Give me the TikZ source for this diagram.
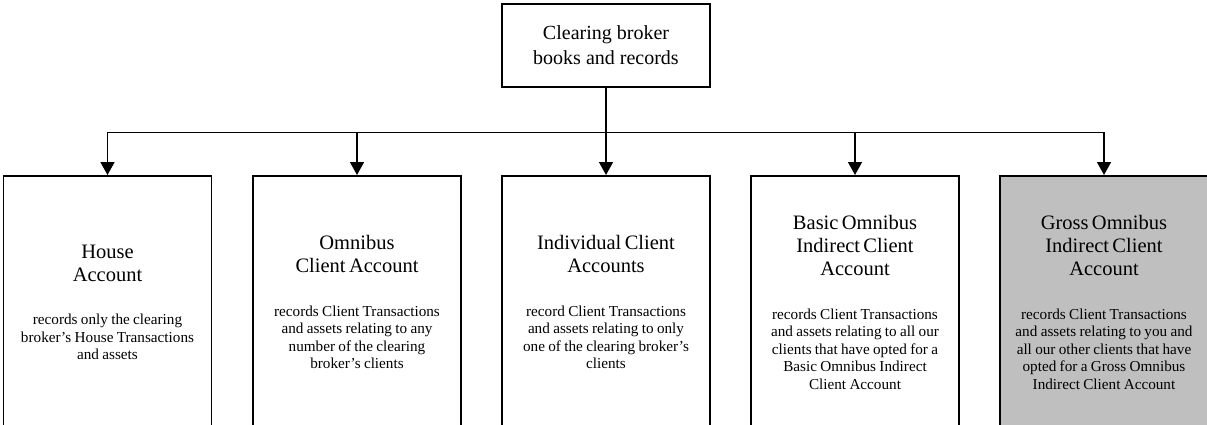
\documentclass[tikz,border=0pt]{standalone}
\usepackage{fontspec}
\setmainfont{Liberation Serif}
\usetikzlibrary{arrows.meta}
\definecolor{boxgray}{RGB}{191,191,191}
\newcommand{\accttext}[2]{{\fontsize{20.5}{23}\selectfont #1\par}\vspace{26pt}{\fontsize{15.2}{17.5}\selectfont #2\par}}
\tikzset{
  acct/.style={draw=black, line width=1.8pt, rectangle, anchor=north,
    minimum width=208pt, minimum height=253pt, text width=205pt, align=center, inner sep=0pt},
  topbox/.style={draw=black, line width=1.6pt, rectangle, minimum width=208pt, minimum height=83pt,
    align=center, inner sep=0pt, font=\fontsize{20}{25}\selectfont},
  conn/.style={line width=1.5pt, -{Triangle[width=14pt,length=13pt]}},
  plain/.style={line width=1.5pt}
}
\begin{document}
\begin{tikzpicture}[x=1pt,y=-1pt]
\useasboundingbox (0,0) rectangle (1207,425);
\clip (0,0) rectangle (1207,425);
\node[topbox] (top) at (606,45.5) {Clearing broker\\books and records};
\node[acct] (b1) at (107.5,175) {\accttext{House\\Account}{records only the clearing\\broker's House Transactions\\and assets}};
\node[acct] (b2) at (357,175) {\accttext{Omnibus\\Client Account}{records Client Transactions\\and assets relating to any\\number of the clearing\\broker's clients}};
\node[acct] (b3) at (606,175) {\accttext{Individual Client\\Accounts}{record Client Transactions\\and assets relating to only\\one of the clearing broker's\\clients}};
\node[acct] (b4) at (855,175) {\accttext{Basic Omnibus\\Indirect Client\\Account}{records Client Transactions\\and assets relating to all our\\clients that have opted for a\\Basic Omnibus Indirect\\Client Account}};
\node[acct, fill=boxgray] (b5) at (1104,175) {\accttext{Gross Omnibus\\Indirect Client\\Account}{records Client Transactions\\and assets relating to you and\\all our other clients that have\\opted for a Gross Omnibus\\Indirect Client Account}};
\coordinate (bus) at (606,132.7);
\draw[conn] (top.south) -- (b3.north);
\draw[conn] (bus) -| (b1.north);
\draw[conn] (bus) -| (b2.north);
\draw[conn] (bus) -| (b4.north);
\draw[conn] (bus) -| (b5.north);
\end{tikzpicture}
\end{document}
